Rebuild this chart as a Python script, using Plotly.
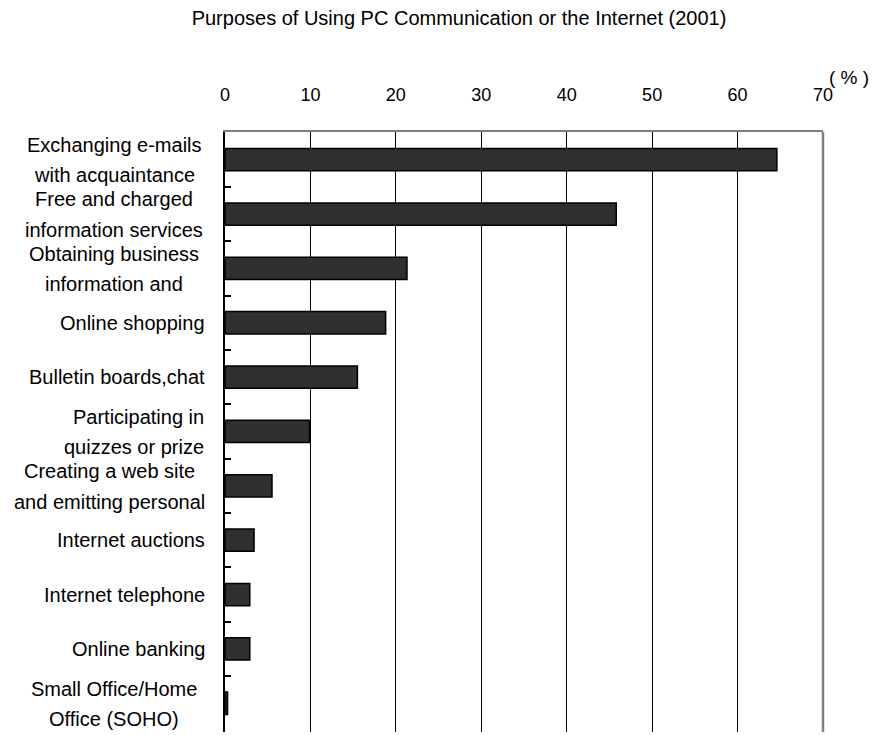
import plotly.graph_objects as go

# Survey results: purposes of using PC communication / the Internet (2001), in %
categories = [
    "Exchanging e-mails<br>with acquaintance",
    "Free and charged<br>information services",
    "Obtaining business<br>information and",
    "Online shopping",
    "Bulletin boards,chat",
    "Participating in<br>quizzes or prize",
    "Creating a web site<br>and emitting personal",
    "Internet auctions",
    "Internet telephone",
    "Online banking",
    "Small Office/Home<br>Office (SOHO)",
]
values = [64.6, 45.8, 21.3, 18.8, 15.5, 9.9, 5.5, 3.4, 2.9, 2.9, 0.3]
x_ticks = [0, 10, 20, 30, 40, 50, 60, 70]

FONT = "Liberation Sans, Arial, sans-serif"
LABEL_SIZE = 20

fig = go.Figure()
fig.add_trace(go.Bar(
    x=values,
    y=categories,
    orientation="h",
    width=0.41,
    marker=dict(color="#303030", line=dict(color="#000000", width=1.5)),
    hoverinfo="x+y",
))

# category labels: two-line labels are centred, single-line ones right-aligned
annotations = []
for i, cat in enumerate(categories):
    lines = cat.split("<br>")
    if len(lines) == 1:
        annotations.append(dict(
            text=lines[0], xref="paper", yref="y", x=0, y=i,
            xanchor="right", yanchor="middle", xshift=-18, showarrow=False,
            font=dict(family=FONT, size=LABEL_SIZE, color="#000"),
        ))
    else:
        right = cat.startswith("Participating")
        centre_shift = -116 if cat.startswith("Creating") else -111
        for j, line in enumerate(lines):
            annotations.append(dict(
                text=line, xref="paper", yref="y", x=0,
                y=i + (-0.27 if j == 0 else 0.29),
                xanchor="right" if right else "center",
                xshift=-19 if right else centre_shift,
                yanchor="middle", showarrow=False,
                font=dict(family=FONT, size=LABEL_SIZE, color="#000"),
            ))

annotations.append(dict(
    text="( % )", xref="paper", yref="paper", x=1.006, y=1.09,
    xanchor="left", yanchor="middle", showarrow=False,
    font=dict(family=FONT, size=19, color="#000"),
))

fig.update_layout(
    width=874, height=735,
    margin=dict(l=225, r=51, t=132, b=3),
    paper_bgcolor="white", plot_bgcolor="white",
    showlegend=False,
    title=dict(
        text="Purposes of Using PC Communication or the Internet (2001)",
        x=459 / 874, xref="container", xanchor="center",
        y=1 - 18 / 735, yref="container", yanchor="middle",
        font=dict(family=FONT, size=20, color="#000"),
    ),
    xaxis=dict(
        side="top", range=[0, 70], tickvals=x_ticks,
        showgrid=True, gridcolor="#000", gridwidth=1,
        showline=True, linecolor="#808080", linewidth=2,
        ticks="outside", ticklen=22, tickcolor="rgba(0,0,0,0)",
        tickfont=dict(family=FONT, size=18, color="#000"),
        zeroline=False,
    ),
    xaxis2=dict(
        overlaying="x", matches="x", side="bottom", anchor="y",
        range=[0, 70], tickvals=x_ticks, showticklabels=False,
        showgrid=False, showline=True, linecolor="#000", linewidth=2,
        ticks="inside", ticklen=4, tickcolor="#000", tickwidth=1.5,
    ),
    yaxis=dict(
        autorange="reversed", showticklabels=False,
        tickson="boundaries", ticks="inside", ticklen=6,
        tickcolor="#000", tickwidth=1.5,
        showline=True, linecolor="#000", linewidth=2,
        showgrid=False, zeroline=False,
    ),
    shapes=[dict(type="line", xref="paper", yref="paper",
                 x0=1, x1=1, y0=0, y1=1,
                 line=dict(color="#808080", width=2.5))],
    annotations=annotations,
    bargap=0.59,
)

fig.write_html("out.html")
